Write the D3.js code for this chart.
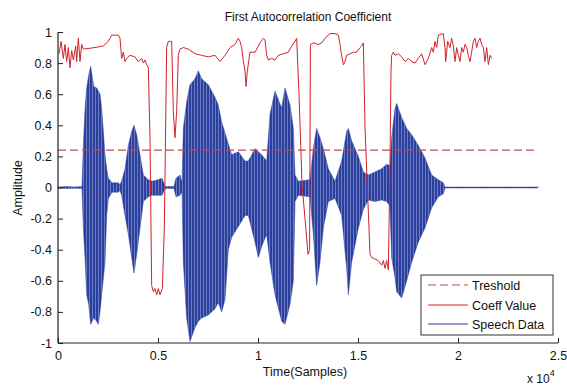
<!DOCTYPE html>
<html><head><meta charset="utf-8">
<script src="https://cdn.jsdelivr.net/npm/d3@7"></script>
<style>
html,body{margin:0;padding:0;background:#fff;}
text{font-family:"Liberation Sans",Arial,sans-serif;}
</style></head>
<body><svg id="chart" width="567" height="387"></svg>
<script>
// ---- data ----
const speechX = [0,400,800,1200,1267,1350,1433,1533,1633,1783,1933,2017,2100,2183,2350,2433,2517,2700,3000,3100,3183,3350,3517,3683,3800,3933,4100,4267,4517,4700,5000,5200,5350,5800,5900,6100,6200,6267,6433,6600,6850,7017,7183,7517,7850,8017,8183,8350,8517,8683,9017,9350,9517,9850,10017,10183,10433,10600,10850,11183,11350,11600,11767,11850,12017,12600,12767,12933,13100,13267,13517,13850,14183,14433,14517,14683,15017,15267,15517,15850,16183,16433,16600,16683,16850,16933,17183,17433,17683,18017,18350,18683,19017,19267,19350,24000];
const speechHi = [0.003,0.006,0.003,0.006,0.27,0.50,0.64,0.72,0.78,0.65,0.64,0.62,0.60,0.51,0.21,0.12,0.06,0.03,0.03,0.02,0.04,0.12,0.27,0.36,0.40,0.34,0.21,0.08,0.05,0.04,0.05,0.06,0.006,0.006,0.06,0.08,0.03,0.38,0.55,0.66,0.70,0.75,0.70,0.66,0.58,0.53,0.42,0.35,0.28,0.21,0.23,0.17,0.17,0.25,0.23,0.21,0.17,0.47,0.62,0.51,0.64,0.53,0.38,0.08,0.04,0.05,0.25,0.38,0.32,0.25,0.12,0.04,0.17,0.36,0.38,0.30,0.20,0.10,0.08,0.10,0.12,0.15,0.14,0.32,0.51,0.54,0.45,0.38,0.34,0.27,0.19,0.08,0.05,0.03,0.003,0.003];
const speechLo = [-0.003,-0.006,-0.005,-0.006,-0.26,-0.45,-0.69,-0.75,-0.88,-0.84,-0.86,-0.88,-0.80,-0.69,-0.48,-0.18,-0.07,-0.03,-0.03,-0.02,-0.05,-0.18,-0.30,-0.45,-0.55,-0.43,-0.26,-0.09,-0.06,-0.05,-0.05,-0.05,-0.006,-0.006,-0.06,-0.05,-0.03,-0.48,-0.84,-0.99,-0.90,-0.86,-0.84,-0.82,-0.78,-0.74,-0.80,-0.72,-0.40,-0.32,-0.25,-0.18,-0.18,-0.35,-0.45,-0.38,-0.30,-0.48,-0.69,-0.86,-0.88,-0.75,-0.60,-0.09,-0.05,-0.06,-0.30,-0.63,-0.48,-0.26,-0.09,-0.07,-0.18,-0.52,-0.69,-0.48,-0.26,-0.14,-0.08,-0.09,-0.08,-0.09,-0.12,-0.45,-0.58,-0.67,-0.71,-0.60,-0.48,-0.35,-0.26,-0.13,-0.06,-0.04,-0.003,-0.003];

const coeffX = [50,150,267,350,433,517,600,683,767,883,933,1017,1100,1183,1267,1850,2267,2517,2683,3017,3100,3183,3267,3350,3433,3600,3850,4017,4183,4267,4350,4433,4517,4600,4683,4767,4850,4933,5017,5100,5217,5317,5433,5517,5683,5767,5850,5933,6017,6100,6267,6517,6850,7183,7517,7850,8100,8350,8600,8850,9017,9100,9183,9267,9350,9400,9467,9600,9850,10100,10267,10350,10433,10517,10683,10850,11017,11267,11517,11683,11850,11933,12050,12200,12350,12500,12580,12620,12767,13017,13183,13350,13600,13850,14017,14100,14183,14267,14350,14433,14600,14767,14933,15100,15183,15267,15350,15483,15550,15600,15683,15850,16017,16183,16267,16350,16433,16517,16600,16650,16683,16767,16850,17017,17183,17350,17517,17683,17850,18017,18183,18350,18517,18683,18767,18850,18933,19017,19267,19350,19383,19483,19600,19683,19767,19850,19933,20017,20100,20183,20267,20350,20433,20517,20600,20683,20767,20850,20933,21017,21100,21183,21267,21350,21433,21517,21600,21683];
const coeffVal = [0.86,0.94,0.83,0.92,0.81,0.90,0.77,0.88,0.82,0.91,0.81,0.96,0.81,0.92,0.89,0.90,0.91,0.94,0.98,0.98,0.96,0.83,0.87,0.81,0.83,0.85,0.84,0.81,0.83,0.80,0.82,0.79,0.77,0.32,-0.63,-0.67,-0.65,-0.69,-0.65,-0.69,-0.65,-0.26,0.90,0.94,0.94,0.49,0.32,0.49,0.85,0.89,0.90,0.89,0.86,0.85,0.84,0.85,0.81,0.85,0.90,0.92,0.96,0.94,0.90,0.81,0.75,0.65,0.75,0.87,0.87,0.93,0.96,0.95,0.85,0.82,0.83,0.82,0.85,0.86,0.87,0.91,0.94,0.96,0.60,0.02,-0.20,-0.43,-0.40,0.92,0.93,0.92,0.93,0.96,0.99,0.99,0.98,0.92,0.85,0.79,0.81,0.85,0.86,0.87,0.87,0.90,0.91,0.93,0.39,-0.05,-0.26,-0.43,-0.45,-0.46,-0.47,-0.50,-0.47,-0.52,-0.47,-0.53,0.15,0.75,0.85,0.87,0.85,0.86,0.84,0.81,0.83,0.81,0.80,0.83,0.86,0.79,0.83,0.90,0.87,0.94,0.90,0.98,0.99,0.90,0.81,0.94,0.90,0.96,0.91,0.81,0.90,0.85,0.81,0.90,0.87,0.92,0.90,0.85,0.81,0.87,0.94,0.96,0.90,0.94,0.96,0.92,0.90,0.81,0.90,0.79,0.85,0.83];

const thresholdValue = 0.24;
const thresholdSpan = [0, 24000];

const xTickValues = [0,5000,10000,15000,20000,25000];
const xTickLabels = ["0","0.5","1","1.5","2","2.5"];
const yTickValues = [1,0.8,0.6,0.4,0.2,0,-0.2,-0.4,-0.6,-0.8,-1];
const yTickLabels = ["1","0.8","0.6","0.4","0.2","0","-0.2","-0.4","-0.6","-0.8","-1"];
const legendLabels = ["Treshold","Coeff Value","Speech Data"];

// ---- drawing ----
const svg = d3.select("#chart");
const x = d3.scaleLinear().domain([0,25000]).range([58,558]);
const y = d3.scaleLinear().domain([-1,1]).range([343,32]);

const colSpeech = "#2b3f9e", colCoeff = "#d2222c", colThr = "#c04a55";

// striped fill to mimic the dense waveform
const defs = svg.append("defs");
const pat = defs.append("pattern").attr("id","wave").attr("patternUnits","userSpaceOnUse")
  .attr("width",3).attr("height",10);
pat.append("rect").attr("width",3).attr("height",10).attr("fill",colSpeech);
pat.append("rect").attr("x",2).attr("width",1).attr("height",10).attr("fill","#6a7bc0");

const speech = speechX.map((v,i)=>({x:v,hi:speechHi[i],lo:speechLo[i]}));
svg.append("path").datum(speech)
  .attr("d", d3.area().x(d=>x(d.x)).y0(d=>y(d.lo)).y1(d=>y(d.hi)))
  .attr("fill", "url(#wave)").attr("stroke", colSpeech).attr("stroke-width",0.5);

svg.append("line")
  .attr("x1", x(thresholdSpan[0])).attr("x2", x(thresholdSpan[1]))
  .attr("y1", y(thresholdValue)).attr("y2", y(thresholdValue))
  .attr("stroke", colThr).attr("stroke-width",1.3).attr("stroke-dasharray","8,4");

const coeff = coeffX.map((v,i)=>({x:v,v:coeffVal[i]}));
svg.append("path").datum(coeff)
  .attr("d", d3.line().x(d=>x(d.x)).y(d=>y(d.v)))
  .attr("fill","none").attr("stroke", colCoeff).attr("stroke-width",1);

// axes
const ax = svg.append("g").attr("transform","translate(0,343)")
  .call(d3.axisBottom(x).tickValues(xTickValues).tickFormat((d,i)=>xTickLabels[i]).tickSize(-5).tickPadding(8));
const ay = svg.append("g").attr("transform","translate(58,0)")
  .call(d3.axisLeft(y).tickValues(yTickValues).tickFormat((d,i)=>yTickLabels[i]).tickSize(-5).tickPadding(6));
[ax,ay].forEach(g=>{
  g.select(".domain").attr("stroke","#222").attr("stroke-width",1.2);
  g.selectAll(".tick line").attr("stroke","#222");
  g.selectAll(".tick text").attr("font-size",12.5).attr("fill","#111").attr("font-family","Liberation Sans, Arial, sans-serif");
});
ay.select(".domain").attr("d","M0,32V343");
ax.select(".domain").attr("d","M58,0H558");

svg.append("text").attr("x",308).attr("y",21).attr("text-anchor","middle")
  .attr("font-size",12).attr("fill","#111").text("First Autocorrelation Coefficient");
svg.append("text").attr("transform","translate(22,188) rotate(-90)").attr("text-anchor","middle")
  .attr("font-size",12.5).attr("fill","#111").text("Amplitude");
svg.append("text").attr("x",305).attr("y",376).attr("text-anchor","middle")
  .attr("font-size",12.5).attr("fill","#111").text("Time(Samples)");
const ex = svg.append("text").attr("x",527).attr("y",383).attr("font-size",12).attr("fill","#111");
ex.append("tspan").text("x 10");
ex.append("tspan").attr("dy",-7).attr("font-size",9).text("4");

// legend
const lg = svg.append("g");
lg.append("rect").attr("x",421).attr("y",275).attr("width",132).attr("height",60)
  .attr("fill","#fff").attr("stroke","#333").attr("stroke-width",1);
const styles = [{c:colThr,d:"8,4"},{c:colCoeff,d:null},{c:colSpeech,d:null}];
const rowsY = [285,305,324];
legendLabels.forEach((t,i)=>{
  lg.append("line").attr("x1",428).attr("x2",468).attr("y1",rowsY[i]).attr("y2",rowsY[i])
    .attr("stroke",styles[i].c).attr("stroke-width",1.2).attr("stroke-dasharray",styles[i].d);
  lg.append("text").attr("x",472).attr("y",rowsY[i]+4.5).attr("font-size",12.5).attr("fill","#111").text(t);
});
</script></body></html>
